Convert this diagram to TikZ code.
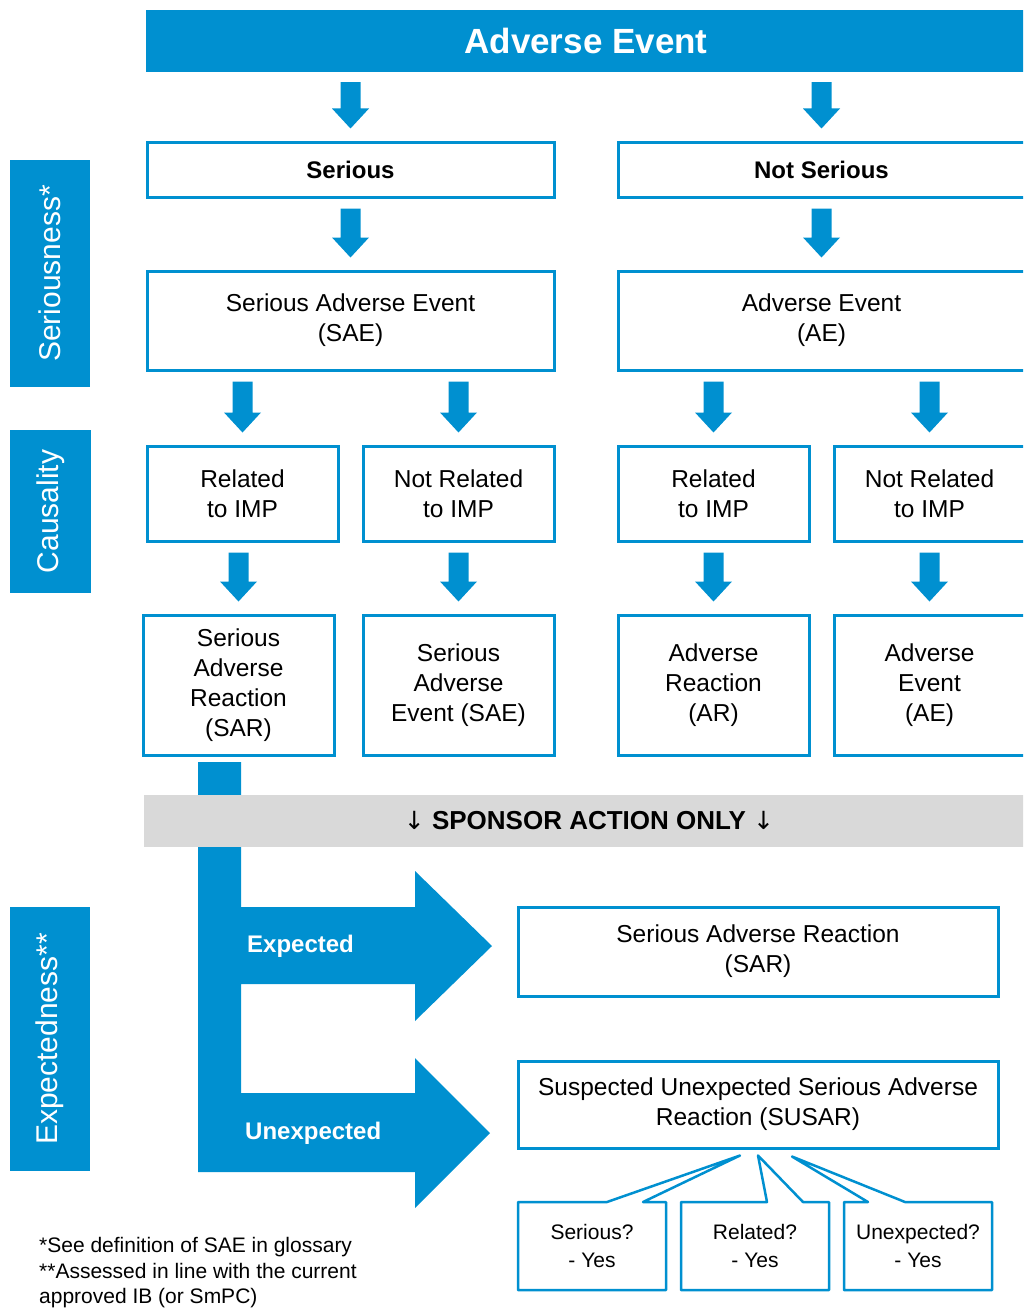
\documentclass[tikz,border=0pt]{standalone}
\usepackage{fontspec}
\setmainfont{Liberation Sans}
\newfontfamily\djv{DejaVu Sans}
\usetikzlibrary{calc}
\definecolor{ablue}{RGB}{0,144,208}
\definecolor{aband}{RGB}{217,217,217}
\newcommand\blockarrow[2]{%
  \path[fill=ablue] let \p1=(#2.north |- #1.south), \p2=(#2.north) in
    (\x1-10pt,\y1-10pt) -- (\x1+10pt,\y1-10pt) -- (\x1+10pt,\y2+32pt) -- (\x1+18.5pt,\y2+32pt)
    -- (\x1,\y2+12pt) -- (\x1-18.5pt,\y2+32pt) -- (\x1-10pt,\y2+32pt) -- cycle;}
\begin{document}
\begin{tikzpicture}[x=1pt,y=-1pt,
  box/.style={draw=ablue, line width=3pt, fill=white, align=center, inner sep=0pt,
    font=\fontsize{24.5}{30}\selectfont},
  side/.style={fill=ablue, text=white, rotate=90, inner sep=0pt,
    font=\fontsize{30}{36}\selectfont},
  callout/.style={draw=ablue, line width=2.5pt, fill=white, line join=round},
  calltext/.style={align=center, inner sep=0pt, outer sep=0pt, minimum width=148pt,
    minimum height=88pt, font=\fontsize{21}{28}\selectfont},
  arrlabel/.style={anchor=west, text=white, inner sep=0pt, font=\fontsize{24}{28}\selectfont\bfseries}
]
\useasboundingbox (0,0) rectangle (1023,1311);
\clip (0,0) rectangle (1023,1311);

% top bar
\node[fill=ablue, text=white, minimum width=880pt, minimum height=62pt, inner sep=0pt,
  font=\fontsize{35}{40}\selectfont\bfseries] (top) at (586,41) {Adverse Event};

% side labels
\node[side, minimum width=227pt, minimum height=80pt] (ss) at (50,273.5) {Seriousness*};
\node[side, minimum width=163pt, minimum height=81pt] (cs) at (50.5,511.5) {Causality};
\node[side, minimum width=264pt, minimum height=80pt] (es) at (50,1039) {Expectedness**};

% row 1
\node[box, minimum width=407pt, minimum height=55pt, font=\fontsize{24}{30}\selectfont\bfseries] (ser) at (350.5,169.5) {Serious};
\node[box, minimum width=407pt, minimum height=55pt, font=\fontsize{24}{30}\selectfont\bfseries] (nser) at (821.5,169.5) {Not Serious};

% row 2
\node[box, minimum width=407pt, minimum height=99pt] (sae) at (350.5,320.5) {Serious Adverse Event\\(SAE)};
\node[box, minimum width=407pt, minimum height=99pt] (ae) at (821.5,320.5) {Adverse Event\\(AE)};

% row 3
\node[box, minimum width=191pt, minimum height=95pt] (r3a) at (242.5,493.5) {Related\\to IMP};
\node[box, minimum width=191pt, minimum height=95pt] (r3b) at (458.5,493.5) {Not Related\\to IMP};
\node[box, minimum width=191pt, minimum height=95pt] (r3c) at (713.5,493.5) {Related\\to IMP};
\node[box, minimum width=191pt, minimum height=95pt] (r3d) at (929.5,493.5) {Not Related\\to IMP};

% row 4
\node[box, minimum width=191pt, minimum height=140pt] (r4a) at (238.5,685) {Serious\\Adverse\\Reaction\\(SAR)};
\node[box, minimum width=191pt, minimum height=140pt] (r4b) at (458.5,685) {Serious\\Adverse\\Event (SAE)};
\node[box, minimum width=191pt, minimum height=140pt] (r4c) at (713.5,685) {Adverse\\Reaction\\(AR)};
\node[box, minimum width=191pt, minimum height=140pt] (r4d) at (929.5,685) {Adverse\\Event\\(AE)};

% block arrows
\blockarrow{top}{ser}
\blockarrow{top}{nser}
\blockarrow{ser}{sae}
\blockarrow{nser}{ae}
\blockarrow{sae}{r3a}
\blockarrow{sae}{r3b}
\blockarrow{ae}{r3c}
\blockarrow{ae}{r3d}
\blockarrow{r3a}{r4a}
\blockarrow{r3b}{r4b}
\blockarrow{r3c}{r4c}
\blockarrow{r3d}{r4d}

% L-shaped branching arrow
\fill[ablue] (198,762) -- (241,762) -- (241,907) -- (415,907) -- (415,871) -- (492,946)
  -- (415,1021) -- (415,984) -- (241,984) -- (241,1093) -- (415,1093) -- (415,1058)
  -- (490,1133) -- (415,1208) -- (415,1172) -- (198,1172) -- cycle;
\node[arrlabel] (lexp) at (247,946) {Expected};
\node[arrlabel] (lunexp) at (245,1133) {Unexpected};

% sponsor band
\node[fill=aband, minimum width=890pt, minimum height=52pt, inner sep=0pt,
  font=\fontsize{26}{30}\selectfont\bfseries] (band) at (589,821)
  {{\djv\mdseries\fontsize{25}{30}\selectfont ↓} SPONSOR ACTION ONLY {\djv\mdseries\fontsize{25}{30}\selectfont ↓}};

% outcome boxes
\node[box, minimum width=480pt, minimum height=89pt] (sar) at (758,951.5) {Serious Adverse Reaction\\(SAR)};
\node[box, minimum width=480pt, minimum height=87pt] (susar) at (758,1104.5) {Suspected Unexpected Serious Adverse\\Reaction (SUSAR)};

% callouts
\coordinate (tipA) at ($(susar.south)+(-18,6)$);
\coordinate (tipB) at ($(susar.south)+(0,6)$);
\coordinate (tipC) at ($(susar.south)+(34,7)$);
\node[calltext] (ca) at (592,1246) {};
\node[calltext] (cb) at (755,1246) {};
\node[calltext] (cc) at (918,1246) {};
\draw[callout] (ca.north west) -- ($(ca.north west)+(89,0)$) -- (tipA) -- ($(ca.north west)+(125,0)$)
  -- (ca.north east) -- (ca.south east) -- (ca.south west) -- cycle;
\draw[callout] (cb.north west) -- ($(cb.north west)+(86,0)$) -- (tipB) -- ($(cb.north west)+(122,0)$)
  -- (cb.north east) -- (cb.south east) -- (cb.south west) -- cycle;
\draw[callout] (cc.north west) -- ($(cc.north west)+(24,0)$) -- (tipC) -- ($(cc.north west)+(61,0)$)
  -- (cc.north east) -- (cc.south east) -- (cc.south west) -- cycle;
\node[calltext] (tA) at (ca.center) {Serious?\\- Yes};
\node[calltext] (tB) at (cb.center) {Related?\\- Yes};
\node[calltext] (tC) at (cc.center) {Unexpected?\\- Yes};

% footnote
\node[anchor=west, align=left, inner sep=0pt, font=\fontsize{21}{25.5}\selectfont] (foot) at (39,1273)
  {*See definition of SAE in glossary\\**Assessed in line with the current\\approved IB (or SmPC)};
\end{tikzpicture}
\end{document}
